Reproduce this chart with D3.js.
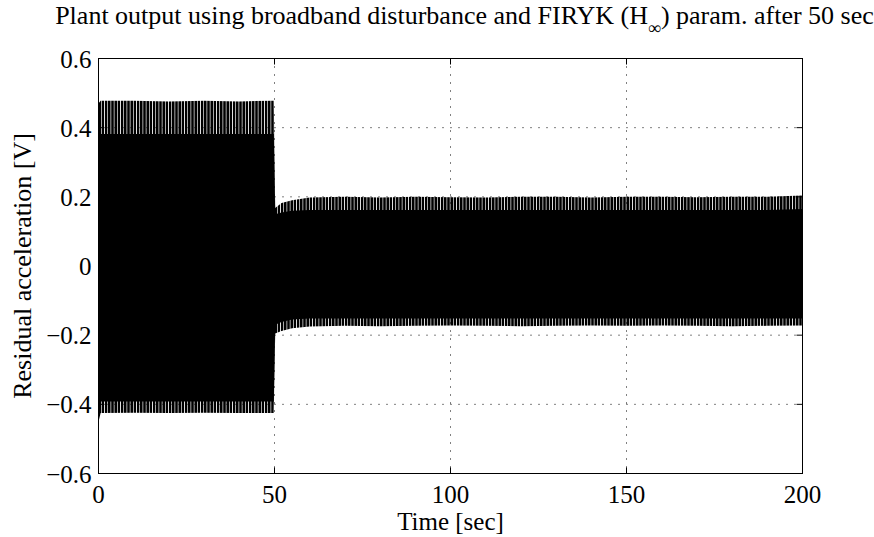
<!DOCTYPE html>
<html>
<head>
<meta charset="utf-8">
<script src="https://cdn.jsdelivr.net/npm/d3@7"></script>
<style>
  body { margin: 0; background: #fff; }
  text { font-family: "Liberation Serif", "Times New Roman", serif; fill: #000; }
</style>
</head>
<body>
<svg id="chart" width="874" height="537"></svg>
<script>
// envelope of the residual acceleration signal
var time      = [0, 0.6, 10, 20, 30, 40, 49.8, 50.2, 52, 55, 60, 70, 80, 90, 100, 110, 120, 130, 140, 150, 160, 170, 180, 190, 200];
var upperPeak = [0.47, 0.478, 0.478, 0.476, 0.478, 0.476, 0.478, 0.168, 0.182, 0.19, 0.198, 0.2, 0.198, 0.2, 0.199, 0.198, 0.2, 0.2, 0.198, 0.2, 0.2, 0.199, 0.2, 0.2, 0.204];
var upperCore = [0.415, 0.382, 0.382, 0.382, 0.382, 0.382, 0.382, 0.15, 0.155, 0.16, 0.162, 0.162, 0.162, 0.162, 0.162, 0.162, 0.162, 0.162, 0.162, 0.162, 0.162, 0.162, 0.162, 0.162, 0.165];
var lowerCore = [-0.41, -0.392, -0.392, -0.392, -0.392, -0.392, -0.392, -0.17, -0.162, -0.155, -0.152, -0.152, -0.152, -0.152, -0.152, -0.152, -0.152, -0.152, -0.152, -0.152, -0.152, -0.152, -0.152, -0.152, -0.152];
var lowerPeak = [-0.45, -0.425, -0.424, -0.425, -0.424, -0.425, -0.425, -0.195, -0.188, -0.18, -0.175, -0.173, -0.174, -0.173, -0.172, -0.173, -0.174, -0.173, -0.172, -0.173, -0.172, -0.173, -0.174, -0.173, -0.172];

var xTicks = [0, 50, 100, 150, 200];
var yTicks = [-0.6, -0.4, -0.2, 0, 0.2, 0.4, 0.6];

var titleText = 'Plant output using broadband disturbance and FIRYK (H';
var titleTail = ') param. after 50 sec';

var svg = d3.select('#chart');
var margin = {left: 98.5, right: 874 - 802.5, top: 58.5, bottom: 537 - 473.5};
var W = 874 - margin.left - margin.right;
var H = 537 - margin.top - margin.bottom;

var x = d3.scaleLinear().domain([0, 200]).range([0, W]);
var y = d3.scaleLinear().domain([-0.6, 0.6]).range([H, 0]);

var defs = svg.append('defs');
var pat = defs.append('pattern')
    .attr('id', 'stripes')
    .attr('patternUnits', 'userSpaceOnUse')
    .attr('width', 3.2)
    .attr('height', 10);
pat.append('rect').attr('width', 2.5).attr('height', 10).attr('fill', '#000');

defs.append('clipPath').attr('id', 'clip')
  .append('rect').attr('width', W).attr('height', H);

var g = svg.append('g').attr('transform', 'translate(' + margin.left + ',' + margin.top + ')');

// grid
g.selectAll('.xgrid').data(xTicks.slice(1, -1)).enter().append('line')
    .attr('x1', d => x(d)).attr('x2', d => x(d))
    .attr('y1', 0).attr('y2', H)
    .attr('stroke', '#000').attr('stroke-width', 1).attr('stroke-dasharray', '1,7');
g.selectAll('.ygrid').data(yTicks.slice(1, -1)).enter().append('line')
    .attr('y1', d => y(d)).attr('y2', d => y(d))
    .attr('x1', 0).attr('x2', W)
    .attr('stroke', '#000').attr('stroke-width', 1).attr('stroke-dasharray', '1,7');

var idx = d3.range(time.length);
var fringe = d3.area()
    .x(i => x(time[i]))
    .y0(i => y(lowerPeak[i]))
    .y1(i => y(upperPeak[i]));
var core = d3.area()
    .x(i => x(time[i]))
    .y0(i => y(lowerCore[i]))
    .y1(i => y(upperCore[i]));

var plot = g.append('g').attr('clip-path', 'url(#clip)');
plot.append('path').attr('d', fringe(idx)).attr('fill', 'url(#stripes)');
plot.append('path').attr('d', core(idx)).attr('fill', '#000');

// box
g.append('rect').attr('width', W).attr('height', H)
    .attr('fill', 'none').attr('stroke', '#000').attr('stroke-width', 1);

// ticks (inside, all four sides)
var tl = 6;
xTicks.forEach(function(t) {
    g.append('line').attr('x1', x(t)).attr('x2', x(t)).attr('y1', H).attr('y2', H - tl).attr('stroke', '#000');
    g.append('line').attr('x1', x(t)).attr('x2', x(t)).attr('y1', 0).attr('y2', tl).attr('stroke', '#000');
});
yTicks.forEach(function(t) {
    g.append('line').attr('y1', y(t)).attr('y2', y(t)).attr('x1', 0).attr('x2', tl).attr('stroke', '#000');
    g.append('line').attr('y1', y(t)).attr('y2', y(t)).attr('x1', W).attr('x2', W - tl).attr('stroke', '#000');
});

var fmt = function(v) { return (v < 0 ? '\u2212' : '') + Math.abs(v).toString(); };

g.selectAll('.xlab').data(xTicks).enter().append('text')
    .attr('x', d => x(d)).attr('y', H + 29.5)
    .attr('text-anchor', 'middle')
    .style('font-size', '25px')
    .text(d => d);

g.selectAll('.ylab').data(yTicks).enter().append('text')
    .attr('x', -7).attr('y', d => y(d) + 9)
    .attr('text-anchor', 'end')
    .style('font-size', '25px')
    .text(fmt);

svg.append('text')
    .attr('x', margin.left + W / 2).attr('y', 530)
    .attr('text-anchor', 'middle')
    .style('font-size', '25px')
    .text('Time [sec]');

svg.append('text')
    .attr('transform', 'translate(31,' + (margin.top + H / 2) + ') rotate(-90)')
    .attr('text-anchor', 'middle')
    .style('font-size', '26px')
    .text('Residual acceleration [V]');

var title = svg.append('text')
    .attr('x', margin.left + W / 2 + 14).attr('y', 24)
    .attr('text-anchor', 'middle')
    .style('font-size', '26px');
title.append('tspan').text(titleText);
title.append('tspan').attr('dy', 10).style('font-size', '18px').text('\u221e');
title.append('tspan').attr('dy', -10).text(titleTail);
</script>
</body>
</html>
